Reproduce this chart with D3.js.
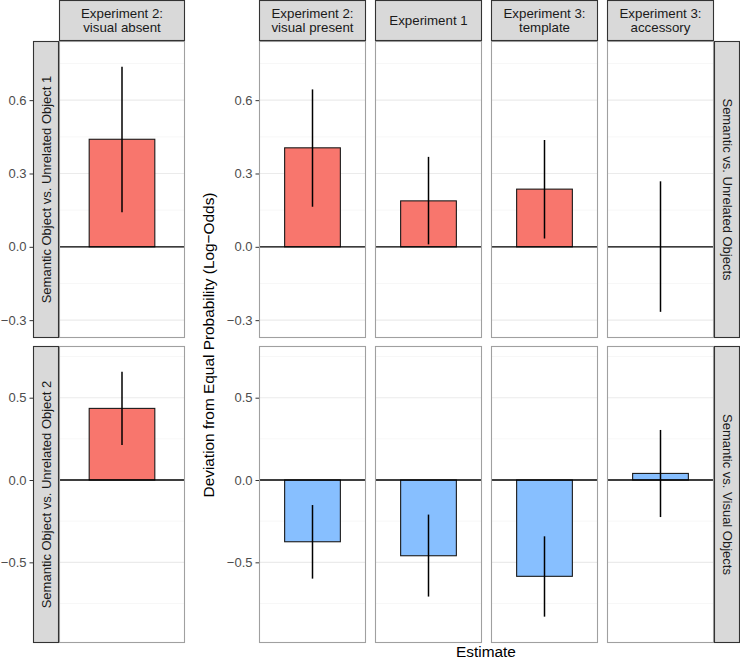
<!DOCTYPE html>
<html>
<head>
<meta charset="utf-8">
<script src="https://cdn.jsdelivr.net/npm/d3@7"></script>
<style>
  body { margin: 0; background: #fff; }
  svg { display: block; font-family: "Liberation Sans", Arial, sans-serif; }
</style>
</head>
<body>
<svg id="chart" width="740" height="663"></svg>
<script>
// ---------- data ----------
const leftExperiment = ["Experiment 2:", "visual absent"];
const rightExperiments = [
  ["Experiment 2:", "visual present"],
  ["Experiment 1"],
  ["Experiment 3:", "template"],
  ["Experiment 3:", "accessory"]
];
const leftRowLabels = ["Semantic Object vs. Unrelated Object 1", "Semantic Object vs. Unrelated Object 2"];
const rightRowLabels = ["Semantic vs. Unrelated Objects", "Semantic vs. Visual Objects"];

// left plot (Experiment 2: visual absent), rows 1 and 2
const leftEstimate = [0.44, 0.435];
const leftLower = [0.141, 0.212];
const leftUpper = [0.737, 0.658];

// right plot, row 1 (Semantic vs. Unrelated)
const row1Estimate = [0.405, 0.188, 0.236, 0.0];
const row1Lower = [0.164, 0.010, 0.034, -0.266];
const row1Upper = [0.644, 0.368, 0.437, 0.268];
// right plot, row 2 (Semantic vs. Visual)
const row2Estimate = [-0.375, -0.46, -0.585, 0.04];
const row2Lower = [-0.599, -0.708, -0.830, -0.225];
const row2Upper = [-0.152, -0.210, -0.342, 0.304];

const row1Ticks = [-0.3, 0.0, 0.3, 0.6];
const row1Minor = [-0.15, 0.15, 0.45, 0.75];
const row2Ticks = [-0.5, 0.0, 0.5];
const row2Minor = [-0.75, -0.25, 0.25, 0.75];
const row1Domain = [-0.373, 0.842];
const row2Domain = [-0.99, 0.814];

const leftFill = ["#F8766D", "#F8766D"];
const rightFill = ["#F8766D", "#87BFFF"];
const categories = ["Estimate"];

// ---------- layout ----------
const svg = d3.select("#chart");
const rowsY = [[41, 338], [346, 643]];
const leftPanelX = [59, 185];
const rightPanelsX = [[259, 366], [375, 482], [491, 598], [607, 714]];
const stripTop = [0, 41];
const FONT = "Liberation Sans, Arial, sans-serif";

const yScales = [
  d3.scaleLinear().domain(row1Domain).range([rowsY[0][1], rowsY[0][0]]),
  d3.scaleLinear().domain(row2Domain).range([rowsY[1][1], rowsY[1][0]])
];
const ticks = [row1Ticks, row2Ticks];
const minors = [row1Minor, row2Minor];
const fmt = d3.format(".1f");
const minusFmt = d => fmt(d).replace("-", "\u2212");

function drawPanel(x0, x1, r, est, lo, hi, fill) {
  const y = yScales[r];
  const g = svg.append("g");
  const x = d3.scaleBand().domain(categories).range([x0, x1]).paddingInner(0).paddingOuter(0.46);
  g.append("rect").attr("x", x0).attr("y", rowsY[r][0]).attr("width", x1 - x0).attr("height", rowsY[r][1] - rowsY[r][0]).attr("fill", "#fff");
  g.selectAll(".minor").data(minors[r]).join("line")
    .attr("x1", x0).attr("x2", x1).attr("y1", d => y(d)).attr("y2", d => y(d))
    .attr("stroke", "#F2F2F2").attr("stroke-width", 0.6);
  g.selectAll(".major").data(ticks[r]).join("line")
    .attr("x1", x0).attr("x2", x1).attr("y1", d => y(d)).attr("y2", d => y(d))
    .attr("stroke", "#EBEBEB").attr("stroke-width", 1.1);
  const bx = x(categories[0]);
  g.append("rect")
    .attr("x", bx).attr("width", x.bandwidth())
    .attr("y", y(Math.max(0, est))).attr("height", Math.abs(y(est) - y(0)))
    .attr("fill", fill).attr("stroke", "#1a1a1a").attr("stroke-width", 1.1);
  g.append("line").attr("x1", x0).attr("x2", x1).attr("y1", y(0)).attr("y2", y(0))
    .attr("stroke", "#000").attr("stroke-width", 1.3);
  const cx = bx + x.bandwidth() / 2;
  g.append("line").attr("x1", cx).attr("x2", cx).attr("y1", y(lo)).attr("y2", y(hi))
    .attr("stroke", "#000").attr("stroke-width", 1.5);
  g.append("rect").attr("x", x0 + 0.5).attr("y", rowsY[r][0] + 0.5).attr("width", x1 - x0 - 1).attr("height", rowsY[r][1] - rowsY[r][0] - 1)
    .attr("fill", "none").attr("stroke", "#A0A0A0").attr("stroke-width", 1.1);
}

function drawYAxis(xPos, r) {
  const axis = d3.axisLeft(yScales[r]).tickValues(ticks[r]).tickFormat(minusFmt).tickSize(3.5).tickPadding(3);
  const g = svg.append("g").attr("transform", `translate(${xPos},0)`).call(axis);
  g.select(".domain").remove();
  g.selectAll(".tick line").attr("stroke", "#333").attr("stroke-width", 1);
  g.selectAll(".tick text").attr("fill", "#4D4D4D").style("font-size", "13px").style("font-family", FONT);
}

function drawTopStrip(x0, x1, lines) {
  const g = svg.append("g");
  g.append("rect").attr("x", x0 + 0.5).attr("y", stripTop[0] + 0.5).attr("width", x1 - x0 - 1).attr("height", stripTop[1] - stripTop[0] - 1)
    .attr("fill", "#D9D9D9").attr("stroke", "#333").attr("stroke-width", 1.1);
  const cy = (stripTop[0] + stripTop[1]) / 2;
  const lh = 14;
  lines.forEach((t, i) => {
    g.append("text").attr("x", (x0 + x1) / 2).attr("y", cy + (i - (lines.length - 1) / 2) * lh)
      .attr("text-anchor", "middle").attr("dominant-baseline", "central")
      .attr("fill", "#1A1A1A").style("font-size", "13.3px").text(t);
  });
}

function drawSideStrip(x0, x1, r, label, rot) {
  const g = svg.append("g");
  const [y0, y1] = rowsY[r];
  g.append("rect").attr("x", x0 + 0.5).attr("y", y0 + 0.5).attr("width", x1 - x0 - 1).attr("height", y1 - y0 - 1)
    .attr("fill", "#D9D9D9").attr("stroke", "#333").attr("stroke-width", 1.1);
  const cx = (x0 + x1) / 2, cy = (y0 + y1) / 2;
  g.append("text").attr("transform", `translate(${cx},${cy}) rotate(${rot})`)
    .attr("text-anchor", "middle").attr("dominant-baseline", "central")
    .attr("fill", "#1A1A1A").style("font-size", "13px").text(label);
}

// left plot
for (let r = 0; r < 2; r++) {
  drawPanel(leftPanelX[0], leftPanelX[1], r, leftEstimate[r], leftLower[r], leftUpper[r], leftFill[r]);
  drawSideStrip(33, 59, r, leftRowLabels[r], -90);
  drawYAxis(33, r);
}
drawTopStrip(leftPanelX[0], leftPanelX[1], leftExperiment);

// right plot
const rightData = [
  [row1Estimate, row1Lower, row1Upper],
  [row2Estimate, row2Lower, row2Upper]
];
for (let r = 0; r < 2; r++) {
  rightPanelsX.forEach((px, i) => {
    drawPanel(px[0], px[1], r, rightData[r][0][i], rightData[r][1][i], rightData[r][2][i], rightFill[r]);
  });
  drawSideStrip(714, 740, r, rightRowLabels[r], 90);
  drawYAxis(259, r);
}
rightPanelsX.forEach((px, i) => drawTopStrip(px[0], px[1], rightExperiments[i]));

// axis titles
svg.append("text")
  .attr("transform", `translate(208,345) rotate(-90)`)
  .attr("text-anchor", "middle").attr("dominant-baseline", "central")
  .attr("fill", "#000").style("font-size", "15.4px")
  .text("Deviation from Equal Probability (Log\u2212Odds)");
svg.append("text")
  .attr("x", 486).attr("y", 651)
  .attr("text-anchor", "middle").attr("dominant-baseline", "central")
  .attr("fill", "#000").style("font-size", "15.4px")
  .text("Estimate");
</script>
</body>
</html>
